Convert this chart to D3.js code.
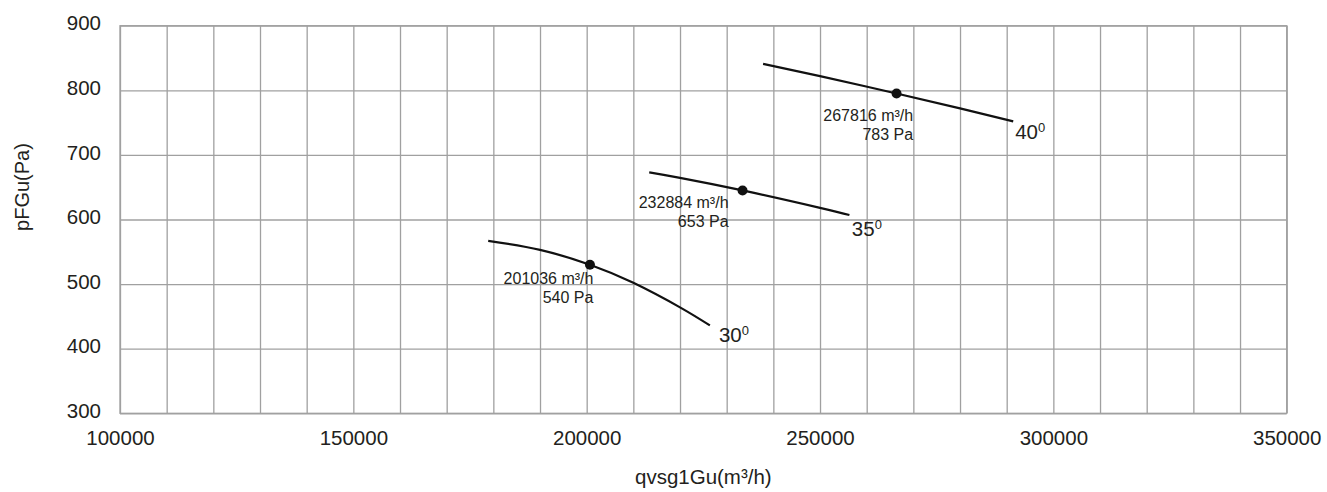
<!DOCTYPE html>
<html>
<head>
<meta charset="utf-8">
<script src="https://cdn.jsdelivr.net/npm/d3@7"></script>
<style>
  body { margin: 0; background: #fff; }
  text { font-family: "Liberation Sans", Arial, Helvetica, sans-serif; fill: #231f20; }
</style>
</head>
<body>
<svg id="chart"></svg>
<script>
// chart values
const xLabels = [100000, 150000, 200000, 250000, 300000, 350000];
const yLabels = [300, 400, 500, 600, 700, 800, 900];
const angles = ['30', '35', '40'];
const curve30 = [[178900, 567], [190000, 553], [200700, 530], [210000, 502], [220000, 464], [226400, 436]];
const curve35 = [[213400, 673], [220000, 664.5], [233400, 645], [250000, 618], [256300, 607]];
const curve40 = [[237800, 841], [250000, 822], [266400, 795], [280000, 772], [291400, 752]];
const opPoints = [[200700, 530], [233400, 645], [266400, 795]];
const opFlow = ['201036 m³/h', '232884 m³/h', '267816 m³/h'];
const opPress = ['540 Pa', '653 Pa', '783 Pa'];

var w = 1327, h = 492;
var margin = {left: 120, right: 40.3, top: 25.7, bottom: 78.7};
var iw = w - margin.left - margin.right;
var ih = h - margin.top - margin.bottom;

var xs = d3.scaleLinear().domain([100000, 350000]).range([0, iw]);
var ys = d3.scaleLinear().domain([300, 900]).range([ih, 0]);

var svg = d3.select('#chart').attr('width', w).attr('height', h);
var g = svg.append('g').attr('transform', 'translate(' + margin.left + ',' + margin.top + ')');

// grid + axes
var fmt = d3.format('d');
g.append('g')
  .attr('class', 'xaxis')
  .attr('transform', 'translate(0,' + ih + ')')
  .call(d3.axisBottom(xs)
    .tickValues(d3.range(100000, 350001, 10000))
    .tickSize(-ih)
    .tickPadding(17)
    .tickFormat(function(d) { return xLabels.indexOf(d) >= 0 ? fmt(d) : ''; }));

g.append('g')
  .attr('class', 'yaxis')
  .call(d3.axisLeft(ys)
    .tickValues(yLabels)
    .tickSize(-iw)
    .tickPadding(19)
    .tickFormat(fmt));

g.selectAll('.domain').remove();
g.selectAll('.tick line').attr('stroke', '#a0a0a0').attr('stroke-width', 1.3);
g.selectAll('.tick text')
  .style('font-size', '20.5px')
  .attr('fill', '#231f20');
g.selectAll('.yaxis .tick text').attr('dy', '0.2em');

g.append('rect')
  .attr('width', iw).attr('height', ih)
  .attr('fill', 'none')
  .attr('stroke', '#a0a0a0')
  .attr('stroke-width', 1.3);

// curves
var line = d3.line()
  .x(function(d) { return xs(d[0]); })
  .y(function(d) { return ys(d[1]); })
  .curve(d3.curveNatural);

var curves = [curve30, curve35, curve40];
g.selectAll('path.curve')
  .data(curves)
  .enter()
  .append('path')
  .attr('class', 'curve')
  .attr('d', line)
  .attr('fill', 'none')
  .attr('stroke', '#111')
  .attr('stroke-width', 2.2);

// operating points
g.selectAll('circle.op')
  .data(opPoints)
  .enter()
  .append('circle')
  .attr('class', 'op')
  .attr('cx', function(d) { return xs(d[0]); })
  .attr('cy', function(d) { return ys(d[1]); })
  .attr('r', 5)
  .attr('fill', '#111');

// label offsets relative to each operating point
var opOff = [[3.5, 19.5], [-14, 17.7], [16.6, 27.7]];
opPoints.forEach(function(d, i) {
  var t = g.append('text')
    .attr('text-anchor', 'end')
    .style('font-size', '16px');
  t.append('tspan')
    .attr('x', xs(d[0]) + opOff[i][0])
    .attr('y', ys(d[1]) + opOff[i][1])
    .text(opFlow[i]);
  t.append('tspan')
    .attr('x', xs(d[0]) + opOff[i][0])
    .attr('y', ys(d[1]) + opOff[i][1] + 19)
    .text(opPress[i]);
});

// angle labels at the end of each curve
var angOff = [[9, 17], [2.4, 21], [2, 17.6]];
curves.forEach(function(c, i) {
  var last = c[c.length - 1];
  var t = g.append('text')
    .attr('x', xs(last[0]) + angOff[i][0])
    .attr('y', ys(last[1]) + angOff[i][1])
    .style('font-size', '20.5px');
  t.append('tspan').text(angles[i]);
  t.append('tspan')
    .attr('dy', '-0.55em')
    .style('font-size', '13px')
    .text('0');
});

// axis titles
svg.append('text')
  .attr('x', margin.left + iw / 2)
  .attr('y', 484)
  .attr('text-anchor', 'middle')
  .style('font-size', '20.5px')
  .text('qvsg1Gu(m³/h)');

svg.append('text')
  .attr('transform', 'translate(29,187) rotate(-90)')
  .attr('text-anchor', 'middle')
  .style('font-size', '20px')
  .text('pFGu(Pa)');
</script>
</body>
</html>
